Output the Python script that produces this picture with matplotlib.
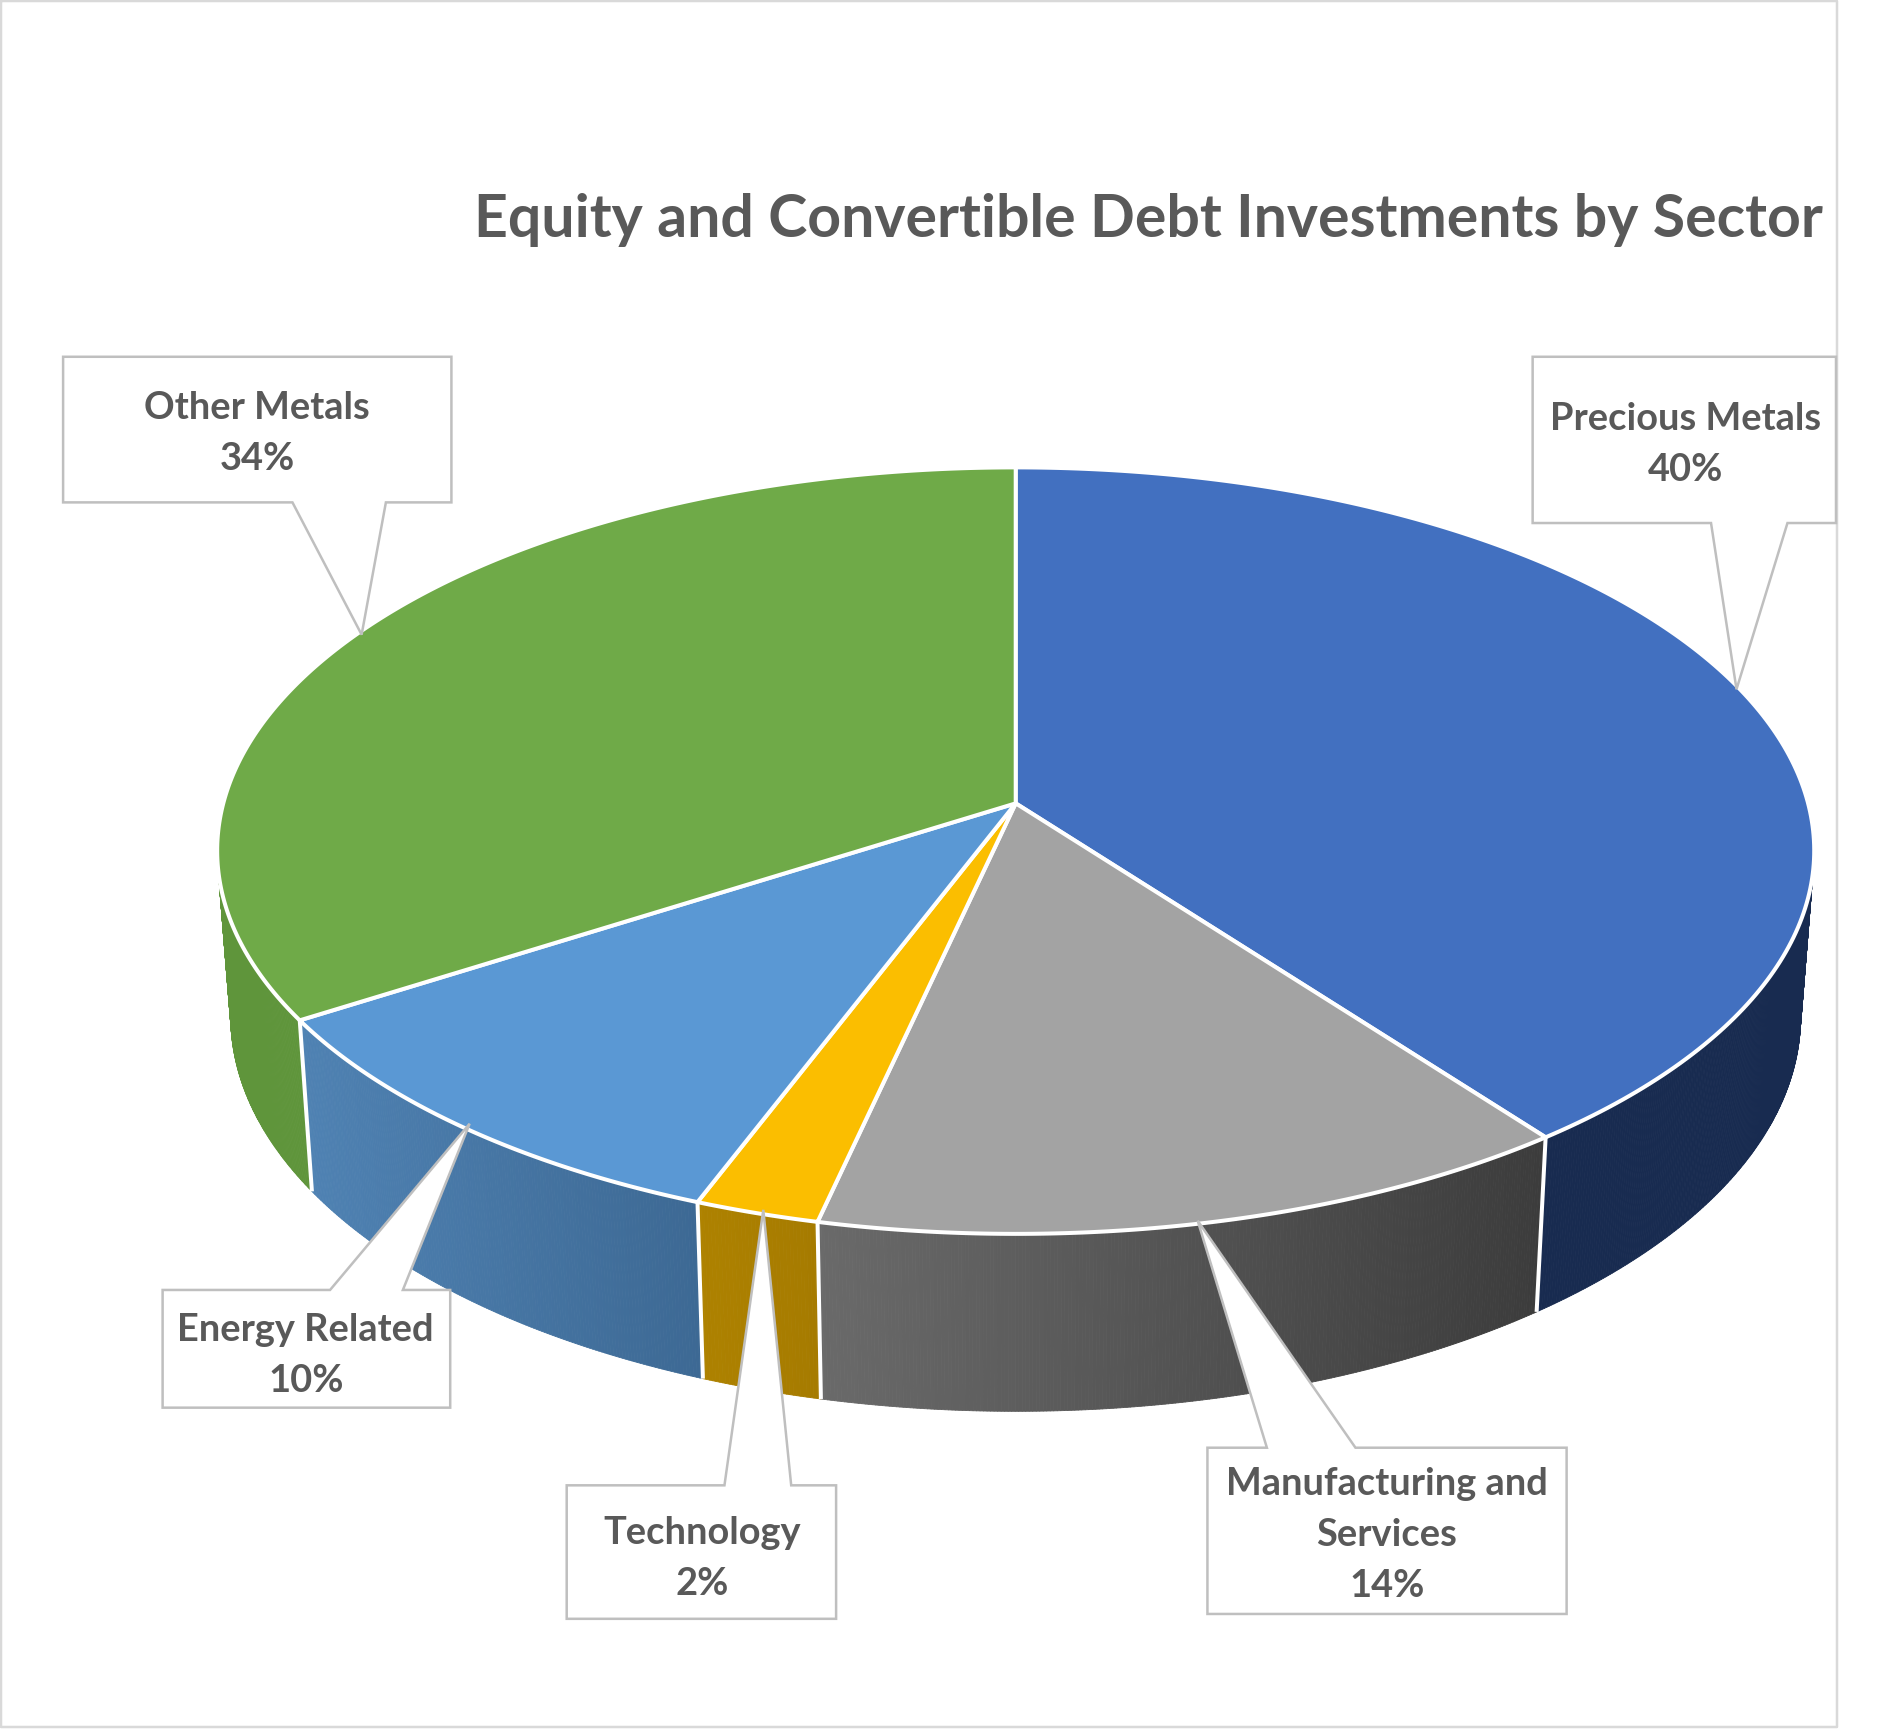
import numpy as np
import matplotlib
matplotlib.use('Agg')
import matplotlib.pyplot as plt
from matplotlib.collections import PolyCollection
from matplotlib.colors import to_rgb

plt.rcParams['font.family'] = ['Lato', 'DejaVu Sans']

# data, clockwise from 12 o'clock
sectors = ['Precious Metals', 'Manufacturing and\nServices', 'Technology', 'Energy Related', 'Other Metals']
shares = [39.7, 13.83, 2.25, 10.2, 34.02]
top_colors = ['#4270C0', '#A3A3A3', '#FBBE00', '#5A98D4', '#6FAA48']
side_left = ['#182B50', '#6A6A6A', '#AE8200', '#4F82B3', '#5F953B']
side_right = ['#182B50', '#3C3C3C', '#A67B00', '#3D6994', '#5F953B']
title = 'Equity and Convertible Debt Investments by Sector'

# drawing units are pixels of a 1568 wide layout
W, H = 1568.2, 1424.8
TEXT = '#595959'
GRID = '#BFBFBF'
LINE_PX = 0.72

# perspective of the disc
CX, CY = 837.0, 662.0
BX, AY = 653.0, 311.0
K = 0.1234


def top_xy(theta):
    u, v = np.sin(theta), -np.cos(theta)
    w = 1 - K * v
    return CX + BX * u / w, CY + AY * v / w


def bottom_xy(x, y):
    return CX + 0.983 * (x - CX), y + 141 + (y - 842) * 0.03


# box polygon, pointer corners given as (x1, tip x, tip y, x2)
callouts = {
    'Precious Metals': dict(box=(1263, 294, 1513, 431), ptr=(1410, 1431, 568, 1473), side='bottom', text=(1389, 366)),
    'Manufacturing and\nServices': dict(box=(995, 1193, 1291, 1330), ptr=(1044, 987, 1006, 1117), side='top', text=(1143, 1265)),
    'Technology': dict(box=(467, 1224, 689, 1334), ptr=(597, 629, 997, 652), side='top', text=(579, 1284)),
    'Energy Related': dict(box=(134, 1063, 371, 1160), ptr=(272, 387, 926, 332), side='top', text=(252, 1117)),
    'Other Metals': dict(box=(52, 294, 372, 414), ptr=(241, 298, 523, 318), side='bottom', text=(212, 357)),
}

fig = plt.figure(figsize=(19.03, 17.29), dpi=100)
ax = fig.add_axes([0, 0, 1, 1])
ax.set_xlim(0, W)
ax.set_ylim(H, 0)
ax.axis('off')

# chart frame
ax.plot([1, 1513.5, 1513.5, 1, 1], [1, 1, 1423, 1423, 1], color='#D9D9D9', lw=2.5 * LINE_PX)

edges = np.cumsum([0] + shares) / sum(shares) * 2 * np.pi

# side wall, thin strips with a horizontal gradient, back to front
quads, quad_colors = [], []
for i in range(len(shares)):
    th = np.linspace(edges[i], edges[i + 1], max(int(shares[i] * 16), 24))
    xt, yt = top_xy(th)
    xb, yb = bottom_xy(xt, yt)
    c0, c1 = np.array(to_rgb(side_left[i])), np.array(to_rgb(side_right[i]))
    for j in range(len(th) - 1):
        quads.append([(xt[j], yt[j]), (xt[j + 1], yt[j + 1]), (xb[j + 1], yb[j + 1]), (xb[j], yb[j])])
        t = (xb[j] - xb.min()) / (xb.max() - xb.min())
        quad_colors.append(c0 + (c1 - c0) * t)
order = np.argsort([q[0][1] for q in quads])
ax.add_collection(PolyCollection([quads[k] for k in order], facecolors=[quad_colors[k] for k in order],
                                 edgecolors=[quad_colors[k] for k in order], linewidths=0.6, zorder=2))

# white seams between the wall parts
for e in edges[1:-1]:
    xt, yt = top_xy(e)
    xb, yb = bottom_xy(xt, yt)
    ax.plot([xt, xb], [yt, yb], color='white', lw=4 * LINE_PX, zorder=3, solid_capstyle='butt')

# top face
for i in range(len(shares)):
    th = np.linspace(edges[i], edges[i + 1], 200)
    xt, yt = top_xy(th)
    ax.fill(np.r_[CX, xt], np.r_[CY, yt], facecolor=top_colors[i], edgecolor='white',
            lw=4 * LINE_PX, joinstyle='round', zorder=4)

# callouts
for name, share in zip(sectors, shares):
    c = callouts[name]
    x0, y0, x1, y1 = c['box']
    a, tx, ty, b = c['ptr']
    if c['side'] == 'top':
        pts = [(x0, y0), (a, y0), (tx, ty), (b, y0), (x1, y0), (x1, y1), (x0, y1)]
    else:
        pts = [(x0, y0), (x1, y0), (x1, y1), (b, y1), (tx, ty), (a, y1), (x0, y1)]
    ax.fill(*zip(*pts), facecolor='white', edgecolor=GRID, lw=2.5 * LINE_PX, joinstyle='miter', zorder=5)
    ax.text(c['text'][0], c['text'][1], f'{name}\n{round(share)}%', ha='center', va='center', color=TEXT,
            fontsize=27.4, fontweight='bold', linespacing=1.6, zorder=6)

ax.text(946, 181, title, ha='center', va='center', color=TEXT, fontsize=42.5, fontweight='bold', zorder=6)

fig.savefig('out.png', dpi=100)
